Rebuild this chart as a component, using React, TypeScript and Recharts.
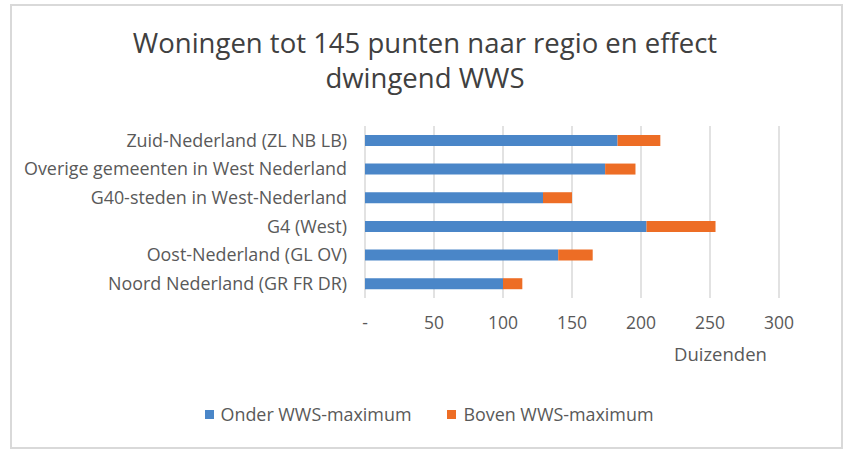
import React from 'react';
import { BarChart, Bar, XAxis, YAxis, CartesianGrid } from 'recharts';

const regions = [
  'Zuid-Nederland (ZL NB LB)',
  'Overige gemeenten in West Nederland',
  'G40-steden in West-Nederland',
  'G4 (West)',
  'Oost-Nederland (GL OV)',
  'Noord Nederland (GR FR DR)',
];
const onderWWS = [183, 174, 129, 204, 140, 100];
const bovenWWS = [31, 22, 21, 50, 25, 14];
const xTicks = [0, 50, 100, 150, 200, 250, 300];

const data = regions.map((r, i) => ({ region: r, onder: onderWWS[i], boven: bovenWWS[i] }));

const FONT = '"Open Sans", sans-serif';
const TEXT = '#595959';
const BLUE = '#4a86c8';
const ORANGE = '#ed6d25';

export default function App() {
  return (
    <div style={{ position: 'absolute', left: 0, top: 0, width: 844, height: 451, background: '#fff', fontFamily: FONT }}>
      <div style={{ position: 'absolute', left: 10, top: 4, width: 829, height: 441, border: '2px solid #d9d9d9' }} />
      <div style={{ position: 'absolute', left: 0, top: 25, width: 850, textAlign: 'center', fontSize: 27.5, lineHeight: '35px', color: '#404040' }}>
        Woningen tot 145 punten naar regio en effect<br />dwingend WWS
      </div>
      <BarChart
        width={844}
        height={451}
        data={data}
        layout="vertical"
        margin={{ top: 126, right: 65, bottom: 123, left: 0 }}
        barCategoryGap="31%"
        style={{ position: 'absolute', left: 0, top: 0 }}
      >
        <CartesianGrid horizontal={false} stroke="#d9d9d9" strokeWidth={1.5} />
        <XAxis
          type="number"
          domain={[0, 300]}
          ticks={xTicks}
          axisLine={false}
          tickLine={false}
          tickSize={0}
          tickMargin={19}
          height={30}
          tick={{ fill: TEXT, fontSize: 17.5, fontFamily: FONT }}
          tickFormatter={(v: number) => (v === 0 ? '-' : String(v))}
        />
        <YAxis
          type="category"
          dataKey="region"
          width={365}
          axisLine={false}
          tickLine={false}
          tickSize={0}
          tickMargin={18}
          interval={0}
          tick={{ fill: TEXT, fontSize: 17.9, fontFamily: FONT }}
        />
        <Bar dataKey="onder" stackId="a" fill={BLUE} isAnimationActive={false} />
        <Bar dataKey="boven" stackId="a" fill={ORANGE} isAnimationActive={false} />
      </BarChart>
      <div style={{ position: 'absolute', left: 674, top: 341, fontSize: 18.5, color: TEXT }}>Duizenden</div>
      <div style={{ position: 'absolute', left: 7, top: 402, width: 844, display: 'flex', justifyContent: 'center', fontSize: 17.9, color: TEXT }}>
        <div style={{ display: 'flex', alignItems: 'center', marginRight: 36 }}>
          <span style={{ width: 9, height: 9, background: BLUE, marginRight: 7, display: 'inline-block' }} />
          Onder WWS-maximum
        </div>
        <div style={{ display: 'flex', alignItems: 'center' }}>
          <span style={{ width: 9, height: 9, background: ORANGE, marginRight: 7, display: 'inline-block' }} />
          Boven WWS-maximum
        </div>
      </div>
    </div>
  );
}
